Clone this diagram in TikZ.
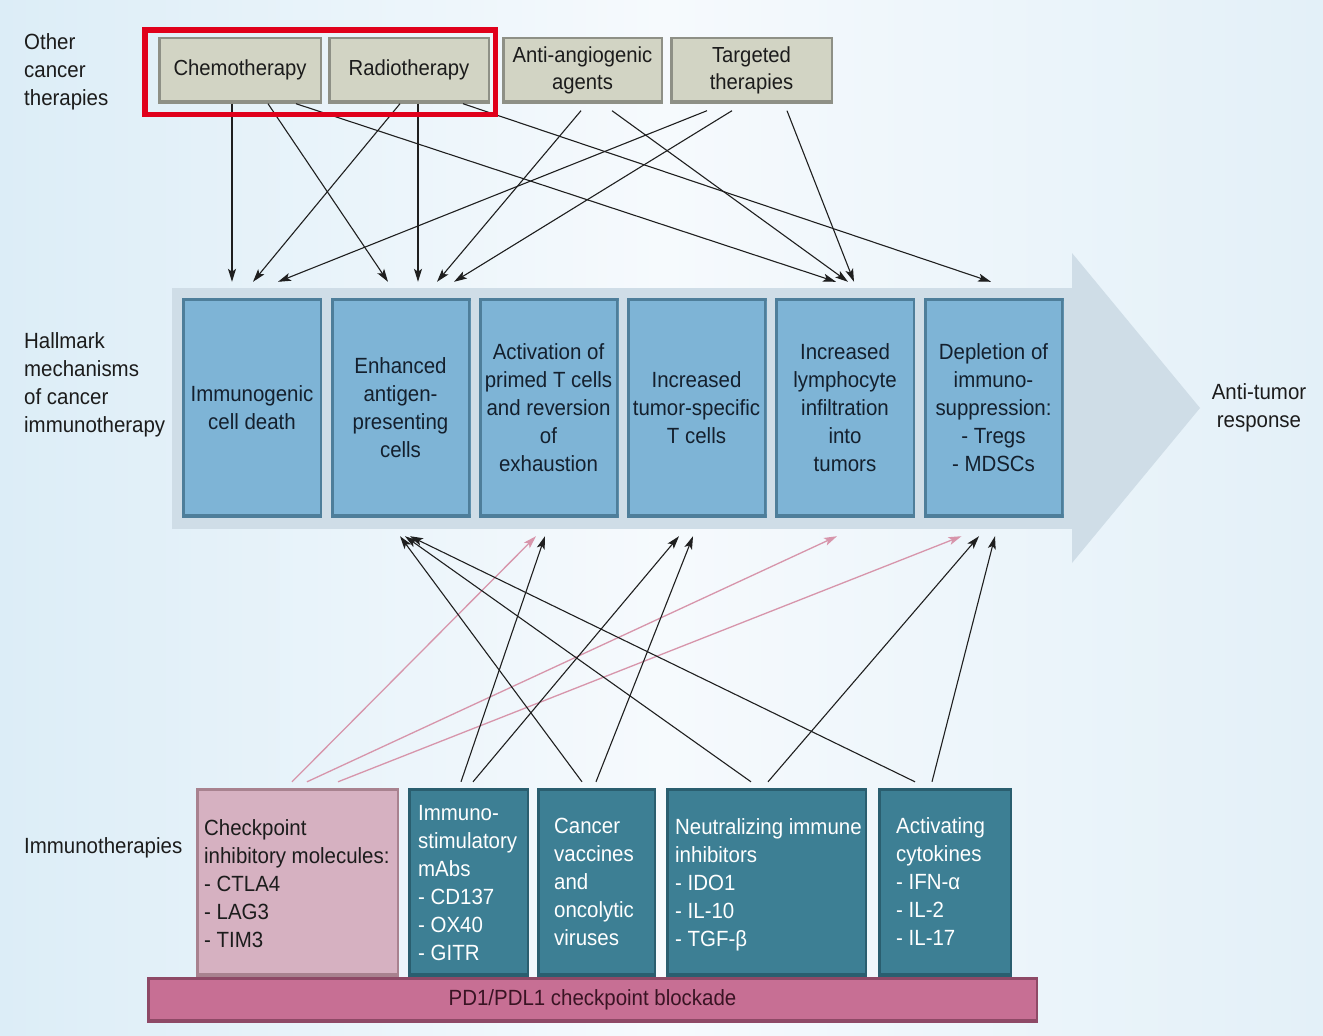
\documentclass[tikz,border=0pt]{standalone}
\usepackage{fontspec}
\setmainfont{Liberation Sans}[FakeStretch=0.93]
\usetikzlibrary{arrows.meta,calc}
\definecolor{bgA}{HTML}{DCEDF7}
\definecolor{bgB}{HTML}{E3F0F8}
\definecolor{bgM}{HTML}{F6FAFD}
\definecolor{grayF}{HTML}{D2D4C4}
\definecolor{grayD}{HTML}{8E9086}
\definecolor{blueF}{HTML}{7EB4D6}
\definecolor{blueD}{HTML}{4E7E9A}
\definecolor{bandC}{HTML}{CFDDE7}
\definecolor{tealF}{HTML}{3D7F94}
\definecolor{tealD}{HTML}{2A5E6F}
\definecolor{pinkF}{HTML}{D6B1C1}
\definecolor{pinkD}{HTML}{A8828F}
\definecolor{pdF}{HTML}{C76F94}
\definecolor{pdD}{HTML}{8E4966}
\definecolor{pdT}{HTML}{3A1424}
\definecolor{redB}{HTML}{E0001B}
\definecolor{txt}{HTML}{1C1C1C}
\definecolor{btxt}{HTML}{14202E}
\definecolor{parrC}{HTML}{D795AB}
\tikzset{
  bev/.style n args={2}{fill=#1, inner sep=0pt, path picture={
    \fill[#2] (path picture bounding box.south west) rectangle ([yshift=4pt]path picture bounding box.south east);
    \fill[#2] (path picture bounding box.south west) rectangle ([xshift=3pt]path picture bounding box.north west);
    \fill[#2] (path picture bounding box.north west) rectangle ([yshift=-2.5pt]path picture bounding box.north east);
    \fill[#2] (path picture bounding box.south east) rectangle ([xshift=-2.5pt]path picture bounding box.north east);
  }},
  bigfont/.style={font=\fontsize{22}{28}\selectfont},
  topfont/.style={font=\fontsize{21.8}{27}\selectfont},
  lbl/.style={bigfont, text=txt, align=left, anchor=west, inner sep=0pt},
  graybox/.style={bev={grayF}{grayD}, topfont, text=txt, align=center, minimum height=67pt},
  bluebox/.style={bev={blueF}{blueD}, bigfont, text=btxt, align=center, minimum width=140pt, minimum height=220pt},
  tealbox/.style={bev={tealF}{tealD}, minimum height=189pt},
  pinkbox/.style={bev={pinkF}{pinkD}, minimum height=189pt},
  btext/.style={bigfont, align=left, anchor=west, inner sep=0pt},
  arr/.style={draw=black!88, line width=1.1pt, -{Stealth[length=13pt,width=8pt,inset=3pt]}},
  parr/.style={draw=parrC, line width=1.3pt, -{Stealth[length=13pt,width=8pt,inset=3pt]}},
}
\begin{document}
\begin{tikzpicture}[x=1pt,y=-1pt]
\useasboundingbox (0,0) rectangle (1323,1036);
\shade[left color=bgA, right color=bgB, middle color=bgM] (0,0) rectangle (1323,1036);

% side labels
\node[lbl] (lother) at (24,72) {Other\\cancer\\therapies};
\node[lbl] (lhall) at (24,385) {Hallmark\\mechanisms\\of cancer\\immunotherapy};
\node[lbl] (limm) at (24,848) {Immunotherapies};
\node[bigfont, text=txt, align=center, inner sep=0pt] (anti) at (1259,408) {Anti-tumor\\response};

% big arrow band
\fill[bandC] (172,288) rectangle (1074,529);
\fill[bandC] (1072,253) -- (1200,408) -- (1072,563) -- cycle;

% hallmark boxes
\node[bluebox] (b1) at (252,408) {Immunogenic\\cell death};
\node[bluebox] (b2) at (400.5,408) {Enhanced\\antigen-\\presenting\\cells};
\node[bluebox] (b3) at (548.5,408) {Activation of\\primed T cells\\and reversion\\of\\exhaustion};
\node[bluebox] (b4) at (696.5,408) {Increased\\tumor-specific\\T cells};
\node[bluebox] (b5) at (845,408) {Increased\\lymphocyte\\infiltration\\into\\tumors};
\node[bluebox] (b6) at (993.5,408) {Depletion of\\immuno-\\suppression:\\- Tregs\\- MDSCs};

% other therapies
\node[graybox, minimum width=164pt] (chemo) at (240,70) {Chemotherapy};
\node[graybox, minimum width=162pt] (radio) at (409,70) {Radiotherapy};
\node[graybox, minimum width=161pt] (angio) at (582.5,70) {Anti-angiogenic\\agents};
\node[graybox, minimum width=163pt] (targ) at (751.5,70) {Targeted\\therapies};

% PD1 bar
\node[bev={pdF}{pdD}, minimum width=891pt, minimum height=46pt, bigfont, text=pdT] (pd1) at (592.5,1000) {PD1/PDL1 checkpoint blockade};

% immunotherapy boxes
\node[pinkbox, minimum width=203pt] (ckp) at (297.5,882.5) {};
\node[tealbox, minimum width=121pt] (ims) at (468.5,882.5) {};
\node[tealbox, minimum width=119pt] (cvx) at (596.5,882.5) {};
\node[tealbox, minimum width=201pt] (neu) at (766.5,882.5) {};
\node[tealbox, minimum width=134pt] (act) at (945,882.5) {};
\node[btext, text=txt] (ckpT) at (204,884) {Checkpoint\\inhibitory molecules:\\- CTLA4\\- LAG3\\- TIM3};
\node[btext, text=white] (imsT) at (418,883) {Immuno-\\stimulatory\\mAbs\\- CD137\\- OX40\\- GITR};
\node[btext, text=white] (cvxT) at (554,882) {Cancer\\vaccines\\and\\oncolytic\\viruses};
\node[btext, text=white] (neuT) at (675,885) {Neutralizing immune\\inhibitors\\- IDO1\\- IL-10\\- TGF-β};
\node[btext, text=white] (actT) at (896,882) {Activating\\cytokines\\- IFN-α\\- IL-2\\- IL-17};

% arrows from other therapies
\draw[arr] ([xshift=-8pt]chemo.south) -- ([xshift=-20pt,yshift=16pt]b1.north);
\draw[arr] ([xshift=28pt]chemo.south) -- ([xshift=-12.5pt,yshift=16pt]b2.north);
\draw[arr] ([xshift=56pt]chemo.south) -- ([xshift=-9pt,yshift=16pt]b5.north);
\draw[arr] ([xshift=-9pt]radio.south) -- ([xshift=1pt,yshift=16pt]b1.north);
\draw[arr] ([xshift=9pt]radio.south) -- ([xshift=17.5pt,yshift=16pt]b2.north);
\draw[arr] ([xshift=54pt]radio.south) -- ([xshift=-2.5pt,yshift=16pt]b6.north);
\draw[arr] ([xshift=-1.5pt,yshift=-7pt]angio.south) -- ([xshift=36.5pt,yshift=16pt]b2.north);
\draw[arr] ([xshift=29.5pt,yshift=-7pt]angio.south) -- ([xshift=3pt,yshift=16pt]b5.north);
\draw[arr] ([xshift=-44.5pt,yshift=-7pt]targ.south) -- ([xshift=26pt,yshift=16pt]b1.north);
\draw[arr] ([xshift=-19.5pt,yshift=-7pt]targ.south) -- ([xshift=53.5pt,yshift=16pt]b2.north);
\draw[arr] ([xshift=35.5pt,yshift=-7pt]targ.south) -- ([xshift=9pt,yshift=16pt]b5.north);

% arrows from immunotherapies
\draw[parr] ([xshift=-5.5pt,yshift=6pt]ckp.north) -- ([xshift=-12.5pt,yshift=-18pt]b3.south);
\draw[parr] ([xshift=9.5pt,yshift=6pt]ckp.north) -- ([xshift=-8pt,yshift=-18pt]b5.south);
\draw[parr] ([xshift=40.5pt,yshift=6pt]ckp.north) -- ([xshift=-32pt,yshift=-18pt]b6.south);
\draw[arr] ([xshift=-7.5pt,yshift=6pt]ims.north) -- ([xshift=-3.5pt,yshift=-18pt]b3.south);
\draw[arr] ([xshift=4.5pt,yshift=6pt]ims.north) -- ([xshift=-17.5pt,yshift=-18pt]b4.south);
\draw[arr] ([xshift=-14.5pt,yshift=6pt]cvx.north) -- ([xshift=-0.5pt,yshift=-18pt]b2.south);
\draw[arr] ([xshift=-0.5pt,yshift=6pt]cvx.north) -- ([xshift=-3.5pt,yshift=-18pt]b4.south);
\draw[arr] ([xshift=-15.5pt,yshift=6pt]neu.north) -- ([xshift=4.5pt,yshift=-18pt]b2.south);
\draw[arr] ([xshift=1.5pt,yshift=6pt]neu.north) -- ([xshift=-14.5pt,yshift=-18pt]b6.south);
\draw[arr] ([xshift=-30pt,yshift=6pt]act.north) -- ([xshift=9.5pt,yshift=-18pt]b2.south);
\draw[arr] ([xshift=-13pt,yshift=6pt]act.north) -- ([xshift=1.5pt,yshift=-18pt]b6.south);

% highlight
\draw[redB, line width=5.5pt] (144.75,29.75) rectangle (495.25,114.25);
\end{tikzpicture}
\end{document}
